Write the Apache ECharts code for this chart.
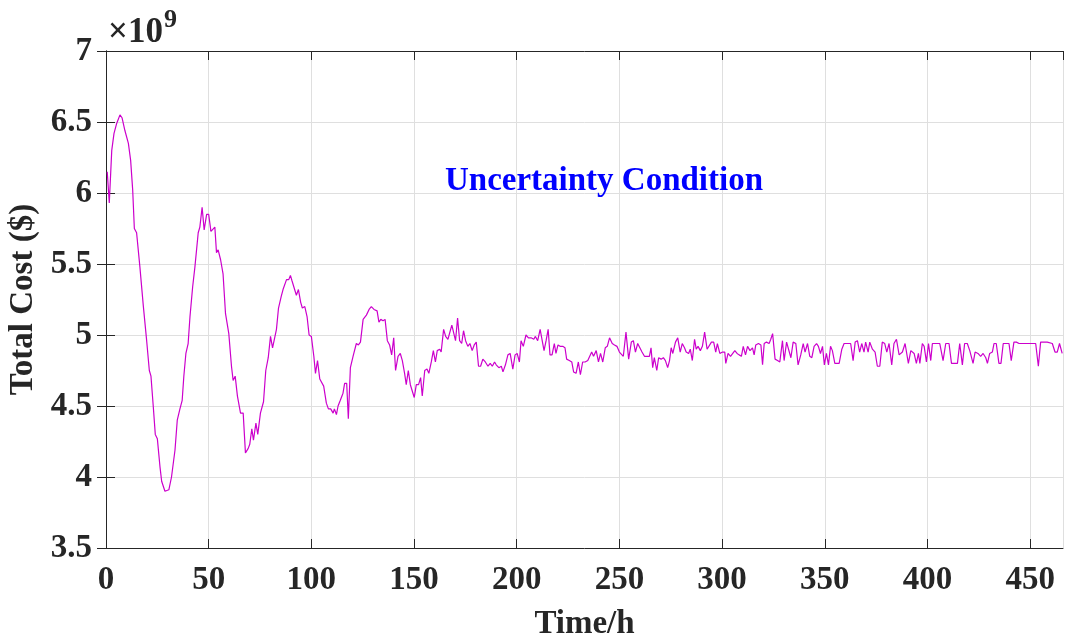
<!DOCTYPE html>
<html>
<head>
<meta charset="utf-8">
<script src="https://cdn.jsdelivr.net/npm/echarts@6/dist/echarts.min.js"></script>
<style>html,body{margin:0;padding:0;background:#fff}#chart{width:1065px;height:639px}</style>
</head>
<body>
<div id="chart"></div>
<script>
// hours and total cost (in units of 1e9 $)
const hours = [0.6,1.6,2.8,3.9,5.2,6.8,7.8,9.2,10.9,12,13,13.8,14.9,16.5,18.2,19.8,21.1,21.9,23,24,25,26.3,27.1,28.7,29.5,30.6,31.9,33.6,34.7,36,37.1,37.9,38.9,40,40.9,42.2,43.3,44.9,45.7,46.8,47.8,49,50,51.1,51.9,53,53.8,54.6,55.8,57,58.2,59.8,61.1,61.9,62.9,64,65.5,66.8,67.9,69.2,70,71,71.8,73,73.9,75.2,76.7,77.8,79,80.1,81.1,82,83,84,85.3,86.2,87.1,87.9,89,89.8,90.6,91.4,92.7,93.7,94.8,95.6,96.8,97.9,98.9,100,101.2,102,103,104.1,106,107.3,108.3,109.4,110.6,111.2,112.2,113,114.1,115.4,116.2,117.2,118,119,120.3,121.9,122.9,123.9,125.2,126.8,128.1,129.2,130.5,132,132.9,133.8,134.9,135.9,137,138.1,139.1,140.1,141,142.2,143.3,144.3,145.4,146.2,147.2,148.2,149.1,150.1,151.1,152.2,153.2,154,155.2,156.3,157.2,158.4,159.4,160.4,161.3,162.5,163.2,164.4,165.4,166.5,167.3,168.4,169.3,170.2,171.2,172.2,173.2,174.1,175.1,176.2,177.2,178.3,179.3,180.3,181.4,182.4,183.5,184.7,186,187.1,188.1,189.2,190,191.3,192.5,193.3,194.5,195.7,196.8,198.1,199.2,200.2,201.3,202.1,203.2,204.5,205.7,207,208.3,209.1,210.2,211.4,212.2,213.3,214.3,215.3,216.2,217.2,218.3,219.1,220.1,221.1,222.4,223.5,224.3,225.6,226.8,227.7,228.9,230,231,232.1,233.3,234.6,235.4,236.5,237.4,238.7,239.8,240.8,241.9,243.1,244.1,245.2,246.5,247.6,248.8,250,251.9,253.2,254.5,255.8,256.8,257.8,258.9,259.7,261,262.2,263.3,264.6,265.4,266.2,267,268.2,269.1,270.3,271.4,272.4,273.5,274.4,275.2,276,277.3,278.4,279.6,280.6,281.7,282.5,283.7,284.5,285.5,286.6,287.4,288.3,289.4,290.4,291.5,292.7,293.6,294.8,295.9,296.9,297.7,298.9,300.2,301.3,301.8,302.9,304.1,305,306.2,307.3,308.3,309.4,310.3,311.4,312.4,313.6,314.8,315.6,316.4,317.7,318.9,319.7,320.5,321.6,322.9,323.7,324.6,325.8,327,328.1,329.4,330.2,331.4,332.3,333.5,334.6,335.9,337,338.3,339.5,340.4,341.6,342.7,343.7,344.8,346,346.9,347.9,348.9,349.8,350.8,351.8,352.8,353.7,354.9,355.7,357,358.3,359.4,361,362.6,363.8,364.8,365.9,367,368,369.1,369.9,371.1,371.9,373.2,374.5,375.6,376.8,378,379.2,380.2,381.3,382.6,383.7,384.9,386.2,387.8,389.1,390.7,391.9,393.5,394.6,395.6,396.3,397.5,398.4,399.5,400.5,401.6,402.4,404,406,407.6,408.9,410.5,411.7,413,414.6,415.7,417,418.1,419.4,420.6,422.2,423.2,424.6,425.9,427.1,428.4,429.2,430.3,431.6,432.4,433.5,434.8,435.8,436.9,438.1,439.7,440.8,442.1,443.3,444.6,447.8,451,452.7,454,455.1,456.7,458.3,460.8,462.1,463.2,464.3,465.6];
const cost = [6.15,5.93,6.30,6.42,6.49,6.55,6.53,6.44,6.35,6.23,6.02,5.75,5.72,5.48,5.20,4.96,4.75,4.71,4.50,4.30,4.27,4.07,3.97,3.90,3.91,3.91,4.00,4.19,4.40,4.48,4.54,4.71,4.87,4.94,5.13,5.34,5.48,5.72,5.76,5.90,5.74,5.85,5.85,5.73,5.72,5.76,5.58,5.60,5.53,5.43,5.15,5.01,4.78,4.68,4.71,4.57,4.45,4.45,4.17,4.20,4.23,4.34,4.26,4.38,4.30,4.45,4.53,4.75,4.84,4.99,4.91,4.91,5.04,5.19,5.27,5.32,5.33,5.39,5.39,5.42,5.38,5.37,5.28,5.32,5.23,5.19,5.20,5.13,5.00,4.99,4.85,4.73,4.82,4.69,4.64,4.52,4.48,4.48,4.45,4.48,4.44,4.50,4.54,4.59,4.66,4.66,4.41,4.77,4.85,4.94,4.93,4.95,5.11,5.14,5.18,5.20,5.18,5.17,5.09,5.11,5.10,5.11,4.96,4.93,4.86,4.98,4.75,4.85,4.87,4.82,4.73,4.65,4.75,4.65,4.65,4.56,4.65,4.65,4.70,4.57,4.75,4.76,4.73,4.81,4.89,4.81,4.89,4.90,4.88,5.04,4.99,4.97,4.96,5.07,5.08,4.96,5.12,4.96,4.94,5.03,4.96,4.92,4.94,4.89,4.93,4.95,4.78,4.78,4.83,4.81,4.78,4.80,4.78,4.81,4.79,4.77,4.78,4.74,4.79,4.86,4.87,4.76,4.86,4.87,4.81,4.96,4.92,5.00,4.98,4.98,4.97,4.99,4.96,5.04,5.05,4.89,4.96,5.04,4.86,4.86,4.94,4.87,4.93,4.92,4.92,4.91,4.83,4.82,4.81,4.74,4.73,4.81,4.72,4.81,4.81,4.82,4.82,4.88,4.85,4.89,4.81,4.87,4.81,4.91,4.92,4.98,4.94,4.93,4.92,4.88,4.85,5.02,4.83,4.95,4.96,4.88,4.94,4.94,4.88,4.85,4.85,4.85,4.91,4.77,4.84,4.75,4.84,4.83,4.84,4.82,4.77,4.82,4.91,4.87,4.95,4.98,4.88,4.94,4.91,4.88,4.87,4.90,4.82,4.97,4.90,4.92,4.89,4.92,5.02,4.90,4.90,4.95,4.95,4.88,4.94,4.87,4.88,4.88,4.80,4.87,4.85,4.84,4.89,4.87,4.86,4.85,4.92,4.86,4.92,4.89,4.91,4.86,4.93,4.94,4.93,4.79,4.94,4.95,4.94,4.97,5.01,4.83,4.82,4.81,4.96,4.82,4.95,4.95,4.84,4.95,4.94,4.79,4.86,4.94,4.88,4.94,4.85,4.84,4.92,4.94,4.92,4.87,4.92,4.79,4.87,4.79,4.92,4.89,4.80,4.80,4.80,4.90,4.94,4.94,4.94,4.82,4.95,4.96,4.88,4.94,4.88,4.95,4.88,4.95,4.90,4.88,4.78,4.78,4.95,4.94,4.88,4.94,4.79,4.94,4.97,4.86,4.88,4.94,4.80,4.89,4.87,4.80,4.87,4.80,4.94,4.92,4.81,4.94,4.82,4.94,4.94,4.94,4.82,4.94,4.94,4.80,4.80,4.80,4.94,4.79,4.94,4.94,4.89,4.80,4.88,4.87,4.85,4.87,4.84,4.80,4.87,4.88,4.94,4.94,4.80,4.80,4.94,4.94,4.94,4.82,4.95,4.95,4.94,4.94,4.94,4.94,4.78,4.95,4.95,4.95,4.94,4.88,4.88,4.94,4.87];
const xTicks = [0, 50, 100, 150, 200, 250, 300, 350, 400, 450];
const yTicks = [3.5, 4, 4.5, 5, 5.5, 6, 6.5, 7];

const ink = '#262626';
const font = '"Liberation Serif", "Times New Roman", serif';
const chart = echarts.init(document.getElementById('chart'));

const baseAxis = {
  axisLine: { show: true, lineStyle: { color: ink, width: 1 } },
  axisTick: { show: true, inside: true, length: 9, lineStyle: { color: ink } },
  splitLine: { show: false },
  axisLabel: { show: false }
};

chart.setOption({
  animation: false,
  grid: { left: 106, right: 2, top: 51, bottom: 91, outerBoundsMode: 'none', containLabel: false },
  graphic: [
    { type: 'text', x: 108, y: 50, z: 100, style: {
      text: '×10', fontFamily: font, fontSize: 35, fontWeight: 'bold', fill: ink,
      align: 'left', verticalAlign: 'bottom' } },
    { type: 'text', x: 164, y: 33, z: 100, style: {
      text: '9', fontFamily: font, fontSize: 26, fontWeight: 'bold', fill: ink,
      align: 'left', verticalAlign: 'bottom' } },
    { type: 'text', x: 604, y: 181, z: 100, style: {
      text: 'Uncertainty Condition', fontFamily: font, fontSize: 33, fontWeight: 'bold',
      fill: '#0000ff', align: 'center', verticalAlign: 'middle' } }
  ],
  xAxis: [{
    ...baseAxis, type: 'value', min: 0, max: 466, interval: 50,
    name: 'Time/h', nameLocation: 'middle', nameGap: 60,
    nameTextStyle: { fontFamily: font, fontSize: 33, fontWeight: 'bold', color: ink },
    axisLabel: { show: true, margin: 16, fontFamily: font, fontSize: 33, fontWeight: 'bold', color: ink,
      showMaxLabel: false, formatter: v => xTicks.includes(v) ? String(v) : '' },
    splitLine: { show: true, lineStyle: { color: '#dfdfdf', width: 1 } }
  }, {
    ...baseAxis, type: 'value', position: 'top', min: 0, max: 466, interval: 50
  }],
  yAxis: [{
    ...baseAxis, type: 'value', min: 3.5, max: 7, interval: 0.5,
    name: 'Total Cost ($)', nameLocation: 'middle', nameGap: 64, nameRotate: 90,
    nameTextStyle: { fontFamily: font, fontSize: 33, fontWeight: 'bold', color: ink },
    axisLabel: { show: true, margin: 14, fontFamily: font, fontSize: 33, fontWeight: 'bold', color: ink,
      formatter: v => yTicks.includes(v) ? String(v) : '' },
    splitLine: { show: true, lineStyle: { color: '#dfdfdf', width: 1 } }
  }, {
    ...baseAxis, type: 'value', position: 'right', min: 3.5, max: 7, interval: 0.5
  }],
  series: [{
    type: 'line', xAxisIndex: 0, yAxisIndex: 0, showSymbol: false,
    lineStyle: { color: '#cc00cc', width: 1.2 },
    data: hours.map((h, i) => [h, cost[i]])
  }]
});
</script>
</body>
</html>
